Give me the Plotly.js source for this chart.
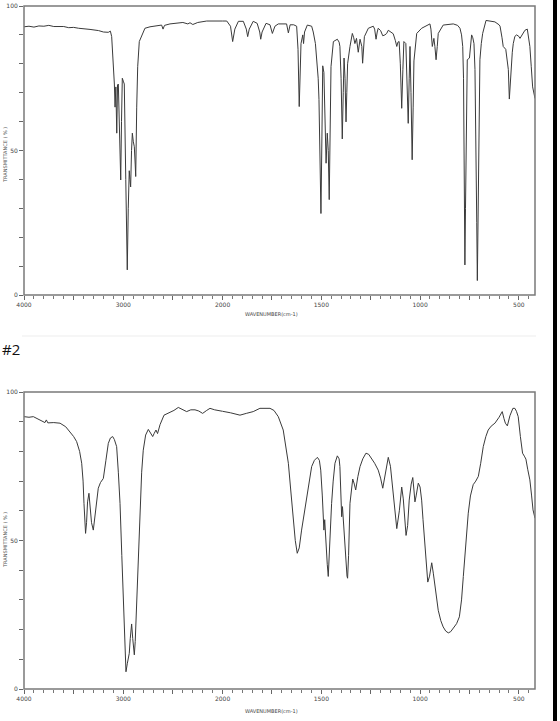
<!DOCTYPE html>
<html>
<head>
<meta charset="utf-8">
<script src="https://cdn.plot.ly/plotly-3.0.1.min.js"></script>
<style>html,body{margin:0;padding:0;background:#fff;}#chart{width:560px;height:721px;}</style>
</head>
<body>
<div id="chart"></div>
<script>
// Spectrum #1: wavenumber (cm-1) and transmittance (%)
const wn1 = [4000,3950,3900,3850,3800,3750,3700,3650,3600,3550,3500,3450,3400,3335,3250,3200,3151,3130,3117,3100,3090,3083,3075,3066,3058,3050,3038,3026,3018,3010,3000,2990,2975,2960,2950,2940,2933,2926,2917,2909,2899,2889,2880,2875,2865,2855,2839,2815,2782,2731,2650,2614,2600,2585,2530,2450,2400,2350,2328,2300,2250,2160,2100,2050,2000,1979,1960,1949,1938,1920,1895,1880,1873,1865,1845,1825,1812,1807,1800,1780,1760,1748,1735,1718,1676,1667,1658,1640,1625,1618,1612,1606,1603,1594,1590,1585,1571,1549,1541,1530,1524,1516,1512,1506,1502,1497,1493,1487,1481,1476,1470,1465,1460,1455,1451,1439,1419,1410,1406,1400,1394,1389,1385,1380,1375,1371,1367,1355,1343,1336,1330,1322,1313,1304,1295,1291,1286,1282,1262,1237,1230,1223,1217,1212,1200,1189,1178,1169,1161,1145,1136,1125,1118,1112,1106,1100,1093,1087,1082,1072,1066,1060,1055,1051,1046,1040,1035,1031,1017,992,950,945,938,930,925,919,913,908,883,832,810,798,790,784,780,778,775,773,770,767,764,761,750,745,739,733,727,722,717,713,710,706,703,700,697,690,683,666,640,621,600,595,585,579,566,558,553,548,543,539,533,528,520,511,500,494,480,469,457,450,444,437,430,418];
const t1 = [92.8,93.0,92.7,93.1,93.0,93.3,92.9,93.0,92.9,92.5,92.6,92.3,92.2,91.9,91.5,91.0,90.9,91.3,89.4,81.3,73,65,72,56,72.7,73,60,39.8,60,75,74,73,40,8.7,30,43,40,37.4,50,56,53,51.3,45,41,65,79,87.7,89.4,92.3,92.8,93.2,93.4,92.0,93.3,93.8,94.0,94.3,93.8,94.2,93.6,94.3,94.8,94.8,95.0,94.8,94.8,93,87.7,92,94.7,94.7,92,89.4,92,94.7,94,91,88.5,91,94,93.5,90.5,93,93.8,93.8,90.7,93.5,93.5,93,85,65.2,80,87,90,87,91,93.4,93,91,87,82.7,75,67.7,50,28.2,55,79.3,77,60,45.6,56,50,33,55,79,87.7,88.5,87.5,86,75,54,70,82,75,59.9,70,80,86,90.5,89,87,88.8,84,88.5,86,80.2,85,89.4,92.3,93,92,88.5,91,92.3,91.5,89.7,90,90.5,91.6,90.8,90.4,88,86,87.5,87.7,80,64.6,78,87.7,87,75,59.4,75,86,70,46.8,65,81,90.5,92.3,93.8,92,86,88.8,86,81.4,86,90.5,93.4,93.8,93.3,92.3,90,86,75,56,30,10.4,30,56,72,81.4,82,87,90,89,87,78,56,25,5,25,56,72,81.4,87,90.5,95,94.8,94.5,93.5,93,89,86,85,81,78,67.8,75,78,84,87,89.5,90,89.5,88.8,90.5,91.6,92,89.5,86,79,72,68];

// Spectrum #2
const wn2 = [4000,3950,3906,3850,3800,3789,3775,3760,3700,3637,3580,3537,3500,3470,3440,3419,3405,3396,3385,3380,3370,3360,3346,3335,3320,3302,3290,3270,3252,3230,3201,3175,3151,3130,3107,3090,3067,3050,3033,3015,3000,2985,2973,2960,2948,2940,2930,2916,2905,2889,2880,2865,2850,2832,2815,2799,2775,2748,2725,2704,2690,2671,2655,2630,2590,2530,2490,2446,2400,2362,2320,2278,2240,2201,2160,2127,2080,2026,2000,1960,1912,1880,1845,1811,1785,1760,1740,1718,1693,1680,1667,1655,1642,1632,1622,1612,1600,1587,1574,1560,1549,1535,1520,1510,1503,1495,1490,1487,1483,1478,1470,1465,1458,1448,1440,1431,1419,1410,1406,1400,1397,1393,1390,1380,1370,1367,1362,1355,1341,1333,1326,1315,1304,1290,1274,1260,1245,1230,1212,1200,1189,1175,1161,1150,1139,1128,1118,1105,1093,1085,1071,1063,1055,1045,1037,1031,1026,1020,1009,1000,992,985,975,968,961,952,941,933,925,917,908,895,883,870,857,845,832,815,801,790,781,770,756,745,731,718,705,693,680,667,655,640,621,600,584,575,568,558,545,530,520,512,503,492,481,472,464,455,444,435,428,418];
const t2 = [91.7,91.5,91.7,90.8,89.9,89.7,90.6,89.6,89.7,89.5,88.3,86.7,85,83.3,80,76,70,62.5,55,52.4,56,63,65.9,62,56,53.5,57,64,67.6,69.5,70.9,77,82.7,84.5,85,84,81.6,73,62.5,45,28.8,13,5.8,8.5,11.5,12,17,21.9,17,11.5,16,28.8,45,62.5,73,80.4,85.5,87.4,86,85,86,87.2,86,89,92.2,93,93.8,94.8,94,93.4,94,94,93.6,92.8,93.8,94.5,94,93.7,93.5,93,92.2,92.8,93.4,94.5,94.5,94.5,93.8,91.7,87.2,82,76,67,56.9,50,45.7,47.5,53.5,59,64.7,70,74.9,77,78,77,73.7,65,56.9,53.5,57,50,42,37.9,50,62.5,70,76,78.5,77.5,74.9,65,58,61.4,58,47,38,37.3,45,62.5,70.7,69,67,71.5,74.9,77.5,79.4,79,77.7,76,73.7,71,67.6,73,78,75,68,60,54,60,68,64,51.7,55,63.6,69,71.2,67,63,65,69.3,68,63.6,57,47.8,40,36,38,42.5,39,34.4,30,26.5,23,20.9,19.5,18.9,19.3,20.4,22,24.3,30,37.9,48,59.2,65,68.8,70,71.6,76,81.6,85,87.2,88.5,89.5,91.5,93.4,91,89.5,88.6,92,94.5,94.5,93.5,91.7,85,79.4,78.4,77.4,74,70.4,65,60.3,57.5];

// Axis ticks and labels
const leftTicks = [4000,3500,3000,2500,2000];
const leftLabels = ["4000","","3000","","2000"];
const rightTicks = [2000,1750,1500,1250,1000,750,500];
const rightLabels = ["","","1500","","1000","","500"];
const yTicks = [0,10,20,30,40,50,60,70,80,90,100];
const yLabels = ["0","","","","","50","","","","","100"];
const xTitle = "WAVENUMBER(cm-1)";
const yTitle = "TRANSMITTANCE ( % )";
const panelLabel = "#2";

const W = 560, H = 721;
const xL = 24/W, xB = 222.6/W, xR = 535/W;
const d1 = [1-295/H, 1-6/H];
const d2 = [1-689/H, 1-392/H];

const lineStyle = {color:'#3a3a3a', width:1};
function tr(x, y, xa, ya){ return {x:x, y:y, xaxis:xa, yaxis:ya, type:'scatter', mode:'lines', line:lineStyle, hoverinfo:'skip', showlegend:false}; }
const data = [
  tr(wn1,t1,'x','y'), tr(wn1,t1,'x2','y'),
  tr(wn2,t2,'x3','y2'), tr(wn2,t2,'x4','y2')
];

const tickFont = {family:'DejaVu Sans', size:6, color:'#444'};
function xa(range, dom, anchor, tv, tt, dmin){
  return {range:range, domain:dom, anchor:anchor, showgrid:false, zeroline:false, showline:false,
    tickmode:'array', tickvals:tv, ticktext:tt, ticks:'outside', ticklen:4, tickwidth:1, tickcolor:'#666',
    tickfont:tickFont, fixedrange:true,
    minor:{dtick:dmin, tick0:0, ticks:'outside', ticklen:2.5, tickwidth:1, tickcolor:'#777', showgrid:false}};
}
function ya(dom, anchor){
  return {range:[0,100], domain:dom, anchor:anchor, showgrid:false, zeroline:false, showline:false,
    tickmode:'array', tickvals:yTicks, ticktext:yLabels, ticks:'outside', ticklen:4, tickwidth:1, tickcolor:'#666',
    tickfont:tickFont, fixedrange:true};
}

const layout = {
  width:W, height:H, margin:{l:0,r:0,t:0,b:0}, paper_bgcolor:'#fff', plot_bgcolor:'#fff',
  showlegend:false,
  xaxis: xa([4000,2000],[xL,xB],'y',leftTicks,leftLabels,100),
  xaxis2: xa([2000,418],[xB,xR],'y',rightTicks,rightLabels,50),
  xaxis3: xa([4000,2000],[xL,xB],'y2',leftTicks,leftLabels,100),
  xaxis4: xa([2000,418],[xB,xR],'y2',rightTicks,rightLabels,50),
  yaxis: ya(d1,'x'),
  yaxis2: ya(d2,'x3'),
  shapes:[
    {type:'rect', xref:'paper', yref:'paper', x0:xL, x1:xR, y0:d1[0], y1:d1[1], line:{color:'#7a7a7a', width:1.5}},
    {type:'rect', xref:'paper', yref:'paper', x0:xL, x1:xR, y0:d2[0], y1:d2[1], line:{color:'#7a7a7a', width:1.5}},
    {type:'line', xref:'paper', yref:'paper', x0:22/W, x1:536/W, y0:1-336/H, y1:1-336/H, line:{color:'#ededed', width:1}},
    {type:'rect', xref:'paper', yref:'paper', x0:553/W, x1:557/W, y0:0, y1:1, fillcolor:'#000', line:{width:0}}
  ],
  annotations:[
    {text:xTitle, xref:'paper', yref:'paper', x:271/W, y:1-314/H, showarrow:false, font:{family:'DejaVu Sans', size:5, color:'#444'}, xanchor:'center', yanchor:'middle'},
    {text:xTitle, xref:'paper', yref:'paper', x:271/W, y:1-711/H, showarrow:false, font:{family:'DejaVu Sans', size:5, color:'#444'}, xanchor:'center', yanchor:'middle'},
    {text:yTitle, xref:'paper', yref:'paper', x:5/W, y:1-155/H, showarrow:false, textangle:-90, font:{family:'DejaVu Sans', size:5, color:'#555'}, xanchor:'center', yanchor:'middle'},
    {text:yTitle, xref:'paper', yref:'paper', x:5/W, y:1-540/H, showarrow:false, textangle:-90, font:{family:'DejaVu Sans', size:5, color:'#555'}, xanchor:'center', yanchor:'middle'},
    {text:panelLabel, xref:'paper', yref:'paper', x:0, y:1-349/H, showarrow:false, font:{family:'Open Sans', size:15, color:'#111'}, xanchor:'left', yanchor:'middle'}
  ]
};

Plotly.newPlot('chart', data, layout, {staticPlot:true, displayModeBar:false});
</script>
</body>
</html>
